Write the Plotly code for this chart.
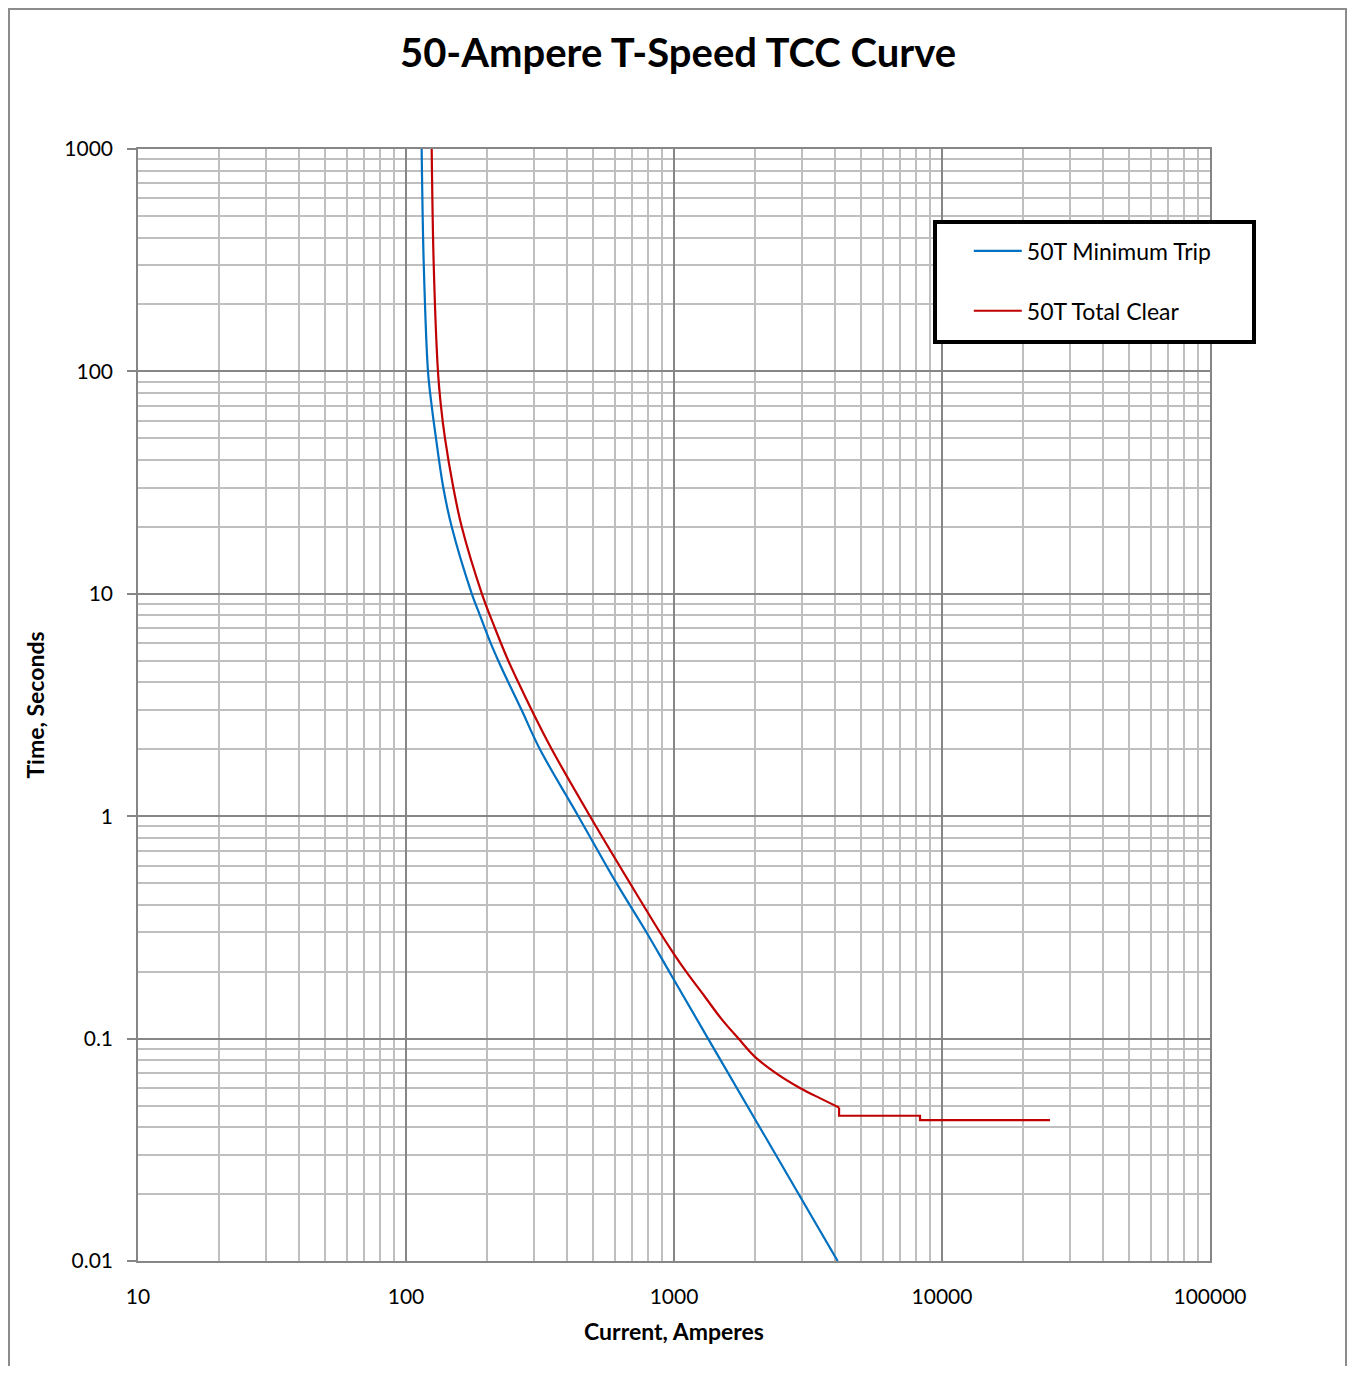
import plotly.graph_objects as go

# ---- data ----
min_trip_current = [114.4, 116.5, 120.8, 124.7, 129.4, 137.8, 148.1, 176, 188.8, 207, 221, 240.8, 270, 316,
                    439.5, 610, 790, 960, 1340, 4080]
min_trip_time = [1000, 300, 100, 70, 50, 30, 20, 10, 8, 6, 5, 4, 3, 2,
                 1, 0.5, 0.3, 0.2, 0.1, 0.01]

total_clear_current = [124.7, 126.9, 131.6, 135, 139.8, 150.2, 161.4, 192, 214.8, 240.8, 262.4, 294.4, 349.8,
                       486, 685, 887, 1000, 1110, 1300, 1500, 1740, 2000, 2400, 2950, 3500, 4130,
                       4130, 8280, 8280, 25300]
total_clear_time = [1000, 300, 100, 70, 50, 30, 20, 10, 7, 5, 4, 3, 2,
                    1, 0.5, 0.3, 0.24, 0.2, 0.155, 0.123, 0.1, 0.083, 0.07, 0.06, 0.054, 0.049,
                    0.045, 0.045, 0.043, 0.043]

x_tick_vals = [10, 100, 1000, 10000, 100000]
x_tick_text = ["10", "100", "1000", "10000", "100000"]
y_tick_vals = [0.01, 0.1, 1, 10, 100, 1000]
y_tick_text = ["0.01", "0.1", "1", "10", "100", "1000"]

series_names = ["50T Minimum Trip", "50T Total Clear"]
series_colors = ["#0070C0", "#C00000"]

FONT = "Lato"
MAJOR = "#868686"
MINOR = "#BFBFBF"

# page body has an 8px margin: figure is drawn from (8, 8)
W, H = 1340, 1358
OFF = 8
L, T = 138 - OFF, 149 - OFF
PW, PH = 1072, 1112

# index where the smooth curve of total clear ends and the step tail starts
split = total_clear_time.index(0.049)

fig = go.Figure()
fig.add_trace(go.Scatter(x=min_trip_current, y=min_trip_time, mode="lines", name=series_names[0],
                         line=dict(color=series_colors[0], width=2.2, shape="spline", smoothing=1.0),
                         legendgroup="a"))
fig.add_trace(go.Scatter(x=total_clear_current[:split + 1], y=total_clear_time[:split + 1], mode="lines",
                         name=series_names[1],
                         line=dict(color=series_colors[1], width=2.2, shape="spline", smoothing=1.0),
                         legendgroup="b"))
fig.add_trace(go.Scatter(x=total_clear_current[split:], y=total_clear_time[split:], mode="lines",
                         name=series_names[1], showlegend=False,
                         line=dict(color=series_colors[1], width=2.2), legendgroup="b"))

fig.update_layout(
    width=W, height=H,
    margin=dict(l=L, r=W - L - PW, t=T, b=H - T - PH),
    paper_bgcolor="white", plot_bgcolor="white",
    font=dict(family=FONT, size=21, color="black"),
    title=dict(text="<b>50-Ampere T-Speed TCC Curve</b>", x=(678 - OFF) / W, xref="container", xanchor="center",
               y=1 - (53 - OFF) / H, yref="container", yanchor="middle",
               font=dict(family=FONT, size=40, color="black")),
    showlegend=True,
    legend=dict(x=0.775, xanchor="left", y=0.9277, yanchor="top", bgcolor="rgba(0,0,0,0)",
                borderwidth=0, font=dict(family=FONT, size=23), itemwidth=48,
                traceorder="grouped", tracegroupgap=27),
)

fig.update_xaxes(
    type="log", range=[1, 5],
    tickvals=x_tick_vals, ticktext=x_tick_text,
    showgrid=True, gridcolor=MAJOR, gridwidth=1.5,
    showline=True, linecolor=MAJOR, linewidth=1.5, mirror=True,
    ticks="", ticklabelstandoff=16,
    tickfont=dict(family=FONT, size=21),
    minor=dict(dtick="D1", showgrid=True, gridcolor=MINOR, gridwidth=1.5, ticks=""),
    title=dict(text="<b>Current, Amperes</b>", font=dict(family=FONT, size=23), standoff=17),
    zeroline=False,
)
fig.update_yaxes(
    type="log", range=[-2, 3],
    tickvals=y_tick_vals, ticktext=y_tick_text,
    showgrid=True, gridcolor=MAJOR, gridwidth=1.5,
    showline=True, linecolor=MAJOR, linewidth=1.5, mirror=True,
    ticks="outside", ticklen=9, tickcolor=MAJOR, tickwidth=1.5, ticklabelstandoff=10,
    tickfont=dict(family=FONT, size=21),
    minor=dict(dtick="D1", showgrid=True, gridcolor=MINOR, gridwidth=1.5, ticks=""),
    title=dict(text="<b>Time, Seconds</b>", font=dict(family=FONT, size=23), standoff=13),
    zeroline=False,
)

# legend frame (white box with thick black border)
fig.add_shape(type="rect", xref="paper", yref="paper",
              x0=(935 - 138) / PW, x1=(1254 - 138) / PW,
              y0=(1261 - 342) / PH, y1=(1261 - 222) / PH,
              line=dict(color="black", width=4), fillcolor="white", layer="above")
# outer chart border
fig.add_shape(type="rect", xref="paper", yref="paper",
              x0=(9 - 138) / PW, x1=(1346 - 138) / PW,
              y0=(1261 - 1385) / PH, y1=(1261 - 9) / PH,
              line=dict(color="#8C8C8C", width=2), fillcolor="rgba(0,0,0,0)", layer="above")

fig.write_html("out.html")
